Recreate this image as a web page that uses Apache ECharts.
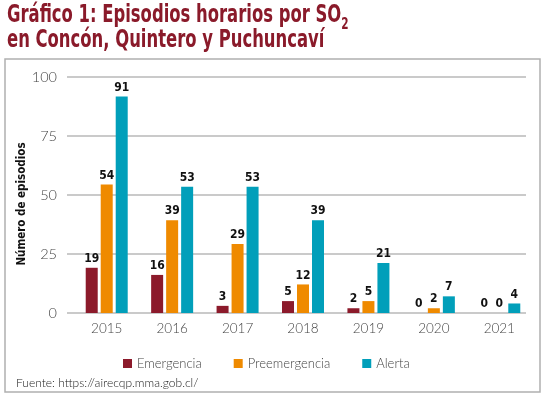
<!DOCTYPE html>
<html>
<head>
<meta charset="utf-8">
<script src="https://cdn.jsdelivr.net/npm/echarts@6/dist/echarts.min.js"></script>
<style>html,body{margin:0;padding:0;background:#fff}#c{width:550px;height:401px}</style>
</head>
<body>
<div id="c"></div>
<script>
const years = ['2015','2016','2017','2018','2019','2020','2021'];
const emergencia = [19,16,3,5,2,0,0];
const preemergencia = [54,39,29,12,5,2,0];
const alerta = [91,53,53,39,21,7,4];
const seriesNames = ['Emergencia','Preemergencia','Alerta'];
const yTicks = {min:0, max:100, interval:25};

const colors = ['#8c1a2b','#ef8a00','#019fba'];
const narrow = '"Liberation Sans Narrow", "DejaVu Sans Condensed", sans-serif';
const light = 'Lato, "Open Sans", sans-serif';

const chart = echarts.init(document.getElementById('c'));
const lbl = {show:true, position:'top', distance:3, color:'#111', fontFamily:narrow, fontWeight:'bold', fontSize:12};
function mk(name, data, i){
  return {name, type:'bar', xAxisIndex:1, yAxisIndex:1, data, barWidth:12, barGap:'25%',
    itemStyle:{color:colors[i]}, label:lbl, emphasis:{disabled:true}};
}
chart.setOption({
  animation:false,
  color:colors,
  grid:[
    {left:67, right:24, top:77, bottom:88},
    {left:74, right:18, top:75, bottom:88}
  ],
  xAxis:[
    {gridIndex:0, type:'category', data:years, show:false},
    {gridIndex:1, type:'category', data:years, axisLine:{show:false}, axisTick:{show:false},
     axisLabel:{margin:9, fontFamily:light, fontWeight:300, fontSize:13.5, color:'#444'}}
  ],
  yAxis:[
    {gridIndex:0, type:'value', min:yTicks.min, max:yTicks.max, interval:yTicks.interval,
     axisLine:{show:false}, axisTick:{show:false},
     splitLine:{lineStyle:{color:'#b8b8b8', width:1.5}},
     axisLabel:{margin:10, fontFamily:light, fontWeight:300, fontSize:14.5, color:'#444'}},
    {gridIndex:1, type:'value', min:yTicks.min, max:yTicks.max, interval:yTicks.interval, show:false, splitLine:{show:false}}
  ],
  legend:{left:118, top:352, itemWidth:9, itemHeight:9, icon:'rect', itemGap:32,
    textStyle:{fontFamily:light, fontWeight:300, fontSize:13, color:'#444'},
    data:seriesNames},
  graphic:[
    {type:'rect', shape:{x:5, y:59, width:535, height:333}, style:{fill:'none', stroke:'#b0b0b0', lineWidth:1.5}, z:-1},
    {type:'text', x:7, y:3, scaleX:0.73, style:{
      text:'{a|Gráfico 1: Episodios horarios por SO}{s|2}\n{a|en Concón, Quintero y Puchuncaví}',
      rich:{
        a:{fontFamily:narrow, fontWeight:'bold', fontSize:25, lineHeight:25, fill:'#8a1a2a', verticalAlign:'bottom'},
        s:{fontFamily:narrow, fontWeight:'bold', fontSize:16, lineHeight:25, fill:'#8a1a2a', verticalAlign:'bottom', padding:[0,0,-5,0]}
      }}},
    {type:'text', x:22, y:204, rotation:Math.PI/2, style:{text:'Número de episodios', fontFamily:narrow, fontWeight:'bold', fontSize:11.5, fill:'#111', textAlign:'center', textVerticalAlign:'middle'}},
    {type:'text', x:16, y:377, style:{text:'Fuente: https://airecqp.mma.gob.cl/', fontFamily:light, fontWeight:300, fontSize:12, fill:'#222'}}
  ],
  series:[
    mk(seriesNames[0], emergencia, 0),
    mk(seriesNames[1], preemergencia, 1),
    mk(seriesNames[2], alerta, 2)
  ]
});
</script>
</body>
</html>
